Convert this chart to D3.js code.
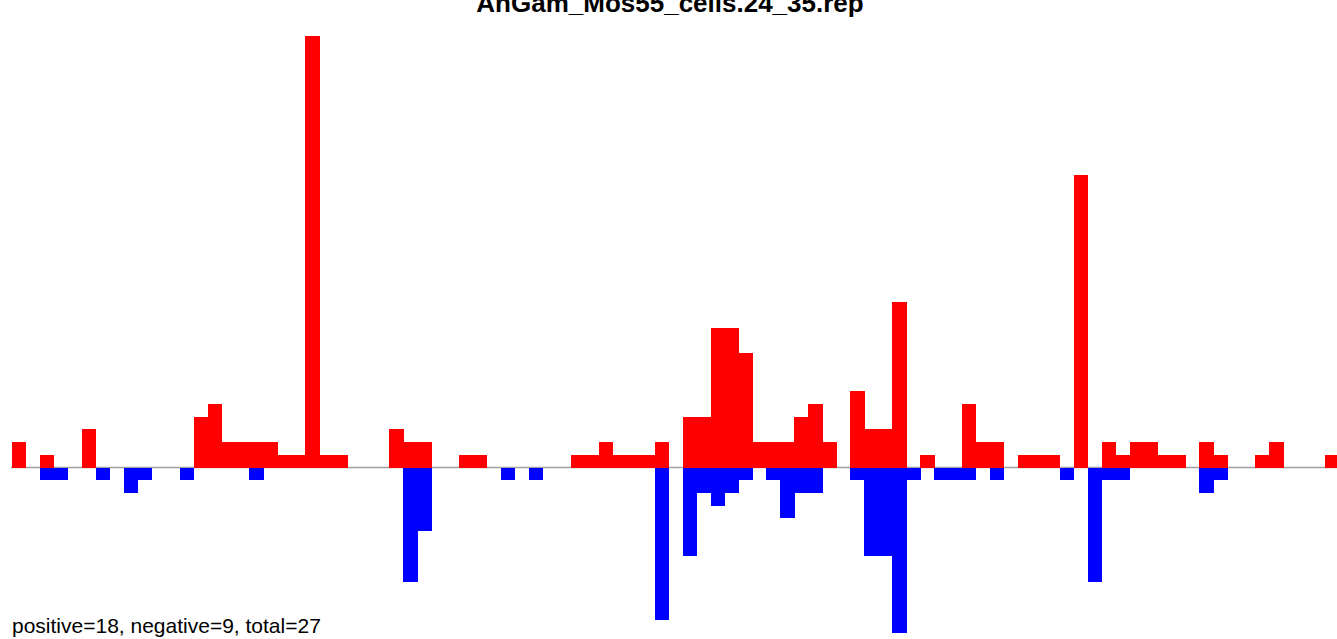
<!DOCTYPE html>
<html>
<head>
<meta charset="utf-8">
<script src="https://cdn.jsdelivr.net/npm/d3@7/dist/d3.min.js"></script>
<style>
html, body { margin: 0; padding: 0; background: #fff; overflow: hidden; }
svg { display: block; }
text { font-family: "Liberation Sans", Arial, sans-serif; }
</style>
</head>
<body>
<script>
const titleText = "AnGam_Mos55_cells.24_35.rep";
const footerText = "positive=18, negative=9, total=27";

// bin indices 0..94
const bins = Array.from({length: 95}, (_, i) => i);

// positive counts per bin (index: value)
const positiveEntries = [
  [0,2],[2,1],[5,3],[13,4],[14,5],[15,2],[16,2],[17,2],[18,2],[19,1],[20,1],[21,34],
  [22,1],[23,1],[27,3],[28,2],[29,2],[32,1],[33,1],[40,1],[41,1],[42,2],[43,1],[44,1],
  [45,1],[46,2],[48,4],[49,4],[50,11],[51,11],[52,9],[53,2],[54,2],[55,2],[56,4],[57,5],
  [58,2],[60,6],[61,3],[62,3],[63,13],[65,1],[68,5],[69,2],[70,2],[72,1],[73,1],[74,1],
  [76,23],[78,2],[79,1],[80,2],[81,2],[82,1],[83,1],[85,2],[86,1],[89,1],[90,2],[94,1]
];

// negative counts per bin (index: magnitude)
const negativeEntries = [
  [2,1],[3,1],[6,1],[8,2],[9,1],[12,1],[17,1],[28,9],[29,5],[35,1],[37,1],[46,12],
  [48,7],[49,2],[50,3],[51,2],[52,1],[54,1],[55,4],[56,2],[57,2],[60,1],[61,7],[62,7],
  [63,13],[64,1],[66,1],[67,1],[68,1],[70,1],[75,1],[77,9],[78,1],[79,1],[85,2],[86,1]
];

const W = 1337, H = 639;
const svg = d3.select("body").append("svg").attr("width", W).attr("height", H);

const x = d3.scaleBand().domain(bins).range([12, 12 + 95 * 13.97]).paddingInner(0).paddingOuter(0);
const y = d3.scaleLinear().domain([-13, 34]).range([467.5 + 13 * 12.7, 467.5 - 34 * 12.7]);

// baseline
svg.append("line")
  .attr("x1", 11).attr("x2", W)
  .attr("y1", y(0)).attr("y2", y(0))
  .attr("stroke", "#a0a0a0").attr("stroke-width", 1.6);

svg.append("g").attr("shape-rendering", "crispEdges").selectAll("rect")
  .data(positiveEntries)
  .join("rect")
  .attr("x", d => x(d[0]))
  .attr("width", x.bandwidth() + 0.5)
  .attr("y", d => y(d[1]))
  .attr("height", d => y(0) - y(d[1]))
  .attr("fill", "#ff0000");

svg.append("g").attr("shape-rendering", "crispEdges").selectAll("rect")
  .data(negativeEntries)
  .join("rect")
  .attr("x", d => x(d[0]))
  .attr("width", x.bandwidth() + 0.5)
  .attr("y", y(0))
  .attr("height", d => y(-d[1]) - y(0))
  .attr("fill", "#0000ff");

svg.append("text")
  .attr("x", 670).attr("y", 12)
  .attr("text-anchor", "middle")
  .attr("font-weight", "bold")
  .attr("font-size", 26)
  .attr("fill", "#000")
  .text(titleText);

svg.append("text")
  .attr("x", 12).attr("y", 633)
  .attr("font-size", 21)
  .attr("fill", "#000")
  .text(footerText);
</script>
</body>
</html>
